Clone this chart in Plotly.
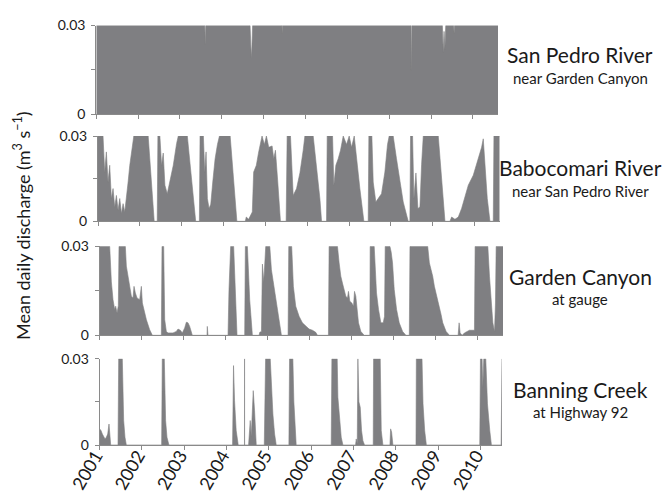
import plotly.graph_objects as go
from datetime import datetime, timedelta

W, H = 670, 494
GREY = "#7f7f82"
AX = "#8a8a8a"
FONT = "Lato"

# ---------------- data (decimal year, mean daily discharge m3/s, clipped at 0.03) -------------
sp_years = [2001.0, 2003.595, 2003.606, 2003.617, 2004.675, 2004.69, 2004.705, 2004.72, 2004.735,
            2005.435, 2005.442, 2005.449, 2008.52, 2008.53, 2008.54,
            2009.27, 2009.29, 2009.31, 2009.33, 2009.35, 2009.54, 2009.55, 2009.56, 2010.6]
sp_vals = [0.03, 0.03, 0.0235, 0.03, 0.03, 0.022, 0.019, 0.023, 0.03,
           0.03, 0.0274, 0.03, 0.03, 0.0146, 0.03,
           0.03, 0.021, 0.028, 0.022, 0.03, 0.03, 0.0274, 0.03, 0.03]

bab_years = [2001.0, 2001.12, 2001.16, 2001.2, 2001.24, 2001.28, 2001.32, 2001.36, 2001.40, 2001.44,
             2001.48, 2001.52, 2001.56, 2001.60, 2001.64, 2001.68, 2001.72, 2001.76, 2001.80, 2001.856,
             2002.2, 2002.28, 2002.344,
             2002.416, 2002.432, 2002.48, 2002.52, 2002.56, 2002.6, 2002.656, 2002.72, 2002.8, 2002.88,
             2002.92, 2003.136, 2003.216, 2003.28, 2003.336,
             2003.424, 2003.44, 2003.52, 2003.552, 2003.584, 2003.616, 2003.656, 2003.696, 2003.744,
             2003.8, 2003.856, 2003.904, 2004.16, 2004.24, 2004.32,
             2004.52, 2004.544, 2004.6, 2004.64, 2004.688, 2004.72, 2004.784, 2004.84, 2004.92, 2004.976,
             2005.024, 2005.08, 2005.16, 2005.2, 2005.24, 2005.296, 2005.36,
             2005.496, 2005.52, 2005.6, 2005.64, 2005.665, 2005.745, 2005.825, 2005.904, 2005.944,
             2006.143, 2006.223, 2006.303, 2006.343,
             2006.462, 2006.478, 2006.606, 2006.637, 2006.685, 2006.741, 2006.797, 2006.861, 2006.94,
             2007.004, 2007.06, 2007.124, 2007.179, 2007.259, 2007.355,
             2007.458, 2007.474, 2007.546, 2007.578, 2007.641, 2007.697, 2007.777, 2007.857, 2007.92,
             2007.96, 2008.056, 2008.135, 2008.215, 2008.295, 2008.414,
             2008.454, 2008.47, 2008.518, 2008.55, 2008.598, 2008.645, 2008.693, 2008.733, 2008.773,
             2009.131, 2009.211, 2009.291,
             2009.41, 2009.45, 2009.53, 2009.61, 2009.689, 2009.769, 2009.849, 2009.968, 2010.088,
             2010.167, 2010.207, 2010.247, 2010.303, 2010.367, 2010.446, 2010.462, 2010.6]
bab_vals = [0.03, 0.03, 0.0173, 0.0244, 0.0138, 0.0197, 0.008, 0.0115, 0.005, 0.0091,
            0.0039, 0.008, 0.0027, 0.0062, 0.0033, 0.008, 0.0138, 0.0197, 0.0244, 0.03,
            0.03, 0.0138, 0.0,
            0.0, 0.03, 0.03, 0.0197, 0.024, 0.0127, 0.0097, 0.0138, 0.0197, 0.0274,
            0.03, 0.03, 0.0173, 0.0068, 0.0,
            0.0, 0.03, 0.03, 0.0173, 0.0244, 0.008, 0.0045, 0.006, 0.0138,
            0.022, 0.027, 0.03, 0.03, 0.0138, 0.0,
            0.0, 0.0015, 0.0007, 0.0021, 0.0033, 0.0173, 0.0197, 0.0244, 0.03, 0.027,
            0.03, 0.026, 0.0265, 0.022, 0.025, 0.0138, 0.0,
            0.0, 0.03, 0.03, 0.0197, 0.0091, 0.0115, 0.017, 0.025, 0.03,
            0.03, 0.0197, 0.008, 0.0,
            0.0, 0.03, 0.03, 0.0127, 0.0197, 0.022, 0.025, 0.03, 0.027,
            0.03, 0.026, 0.03, 0.022, 0.0115, 0.0,
            0.0, 0.03, 0.03, 0.0138, 0.0068, 0.008, 0.0097, 0.0173, 0.027,
            0.03, 0.03, 0.022, 0.0138, 0.0068, 0.0,
            0.0, 0.03, 0.03, 0.008, 0.017, 0.0045, 0.005, 0.02, 0.03,
            0.03, 0.0138, 0.0,
            0.0, 0.0015, 0.0007, 0.0015, 0.0045, 0.0091, 0.0127, 0.0162, 0.022,
            0.026, 0.029, 0.0197, 0.008, 0.0, 0.0, 0.03, 0.03]

gc_years = [2001.0, 2001.238, 2001.278, 2001.317, 2001.357, 2001.381, 2001.413, 2001.444, 2001.46,
            2001.611, 2001.635, 2001.675, 2001.714, 2001.754, 2001.794, 2001.817, 2001.849, 2001.889,
            2001.952, 2001.992, 2002.016, 2002.048, 2002.111, 2002.19, 2002.254,
            2002.468, 2002.484, 2002.524, 2002.548, 2002.587, 2002.627, 2002.746, 2002.825, 2002.865,
            2002.921, 2002.968, 2003.024, 2003.063, 2003.103, 2003.143, 2003.183, 2003.206,
            2003.556, 2003.563, 2003.579,
            2004.056, 2004.079, 2004.119, 2004.19, 2004.23, 2004.27,
            2004.452, 2004.468, 2004.516, 2004.571, 2004.635,
            2004.794, 2004.81, 2004.85, 2004.873, 2004.905, 2004.952, 2005.048, 2005.087, 2005.167,
            2005.246, 2005.325,
            2005.484, 2005.5, 2005.57, 2005.61, 2005.666, 2005.746, 2005.825, 2005.905, 2005.984,
            2006.064, 2006.143, 2006.183,
            2006.445, 2006.461, 2006.66, 2006.7, 2006.74, 2006.779, 2006.819, 2006.859, 2006.899,
            2006.922, 2006.954, 2007.002, 2007.042, 2007.066, 2007.097, 2007.121, 2007.161, 2007.217,
            2007.296,
            2007.431, 2007.439, 2007.535, 2007.559, 2007.59, 2007.638, 2007.694, 2007.75, 2007.781,
            2007.797, 2007.909, 2007.94, 2007.972, 2008.012, 2008.068, 2008.131, 2008.211, 2008.29,
            2008.37, 2008.386, 2008.807, 2008.847, 2008.887, 2008.926, 2008.966, 2009.006, 2009.046,
            2009.086, 2009.125, 2009.165, 2009.245, 2009.324,
            2009.531, 2009.555, 2009.579, 2009.626, 2009.682, 2009.801, 2009.92, 2009.936, 2010.239,
            2010.278, 2010.318, 2010.358, 2010.398, 2010.421, 2010.437, 2010.6]
gc_vals = [0.03, 0.03, 0.018, 0.012, 0.0087, 0.0098, 0.0075, 0.01, 0.03,
           0.03, 0.0233, 0.0199, 0.0165, 0.0132, 0.0126, 0.0165, 0.0143, 0.0126,
           0.012, 0.0165, 0.0109, 0.0087, 0.0053, 0.0019, 0.0,
           0.0, 0.03, 0.03, 0.0053, 0.0013, 0.0008, 0.0008, 0.0013, 0.0021,
           0.0017, 0.0008, 0.0025, 0.0044, 0.0042, 0.003, 0.0008, 0.0,
           0.0, 0.003, 0.0,
           0.0, 0.0154, 0.03, 0.03, 0.012, 0.0,
           0.0, 0.03, 0.03, 0.012, 0.0,
           0.0, 0.001, 0.0013, 0.024, 0.018, 0.03, 0.03, 0.0221, 0.0143,
           0.0064, 0.0,
           0.0, 0.03, 0.03, 0.0165, 0.0098, 0.0064, 0.0042, 0.003, 0.0021,
           0.0017, 0.001, 0.0,
           0.0, 0.03, 0.03, 0.0244, 0.0199, 0.0176, 0.0154, 0.0132, 0.0126,
           0.0148, 0.0115, 0.0109, 0.0098, 0.0148, 0.0132, 0.0087, 0.0042, 0.0013,
           0.0,
           0.0, 0.03, 0.03, 0.0244, 0.0143, 0.0087, 0.0042, 0.0042, 0.0064,
           0.03, 0.03, 0.028, 0.0244, 0.0154, 0.0087, 0.0042, 0.0013, 0.0,
           0.0, 0.03, 0.03, 0.0244, 0.0221, 0.0199, 0.0165, 0.0143, 0.012,
           0.0098, 0.007, 0.0042, 0.0013, 0.0,
           0.0, 0.0042, 0.0008, 0.0, 0.0008, 0.0017, 0.0017, 0.03, 0.03,
           0.0199, 0.0109, 0.0042, 0.0013, 0.0109, 0.03, 0.03]

bc_years = [2001.0, 2001.031, 2001.063, 2001.094, 2001.126, 2001.157, 2001.189, 2001.22, 2001.236, 2001.26,
            2001.433, 2001.449, 2001.535, 2001.567, 2001.598, 2001.63,
            2002.465, 2002.48, 2002.528, 2002.559, 2002.591, 2002.638,
            2004.142, 2004.165, 2004.189, 2004.228, 2004.276,
            2004.423, 2004.425, 2004.427,
            2004.52, 2004.559, 2004.583, 2004.606, 2004.63, 2004.661, 2004.701,
            2004.89, 2004.906, 2004.921, 2005.031, 2005.055, 2005.094, 2005.134, 2005.173,
            2005.472, 2005.488, 2005.566, 2005.59, 2005.645,
            2006.473, 2006.489, 2006.615, 2006.631, 2006.671, 2006.71, 2006.75,
            2007.049, 2007.065, 2007.089, 2007.104, 2007.128, 2007.16, 2007.191, 2007.223, 2007.262,
            2007.467, 2007.475, 2007.633, 2007.657, 2007.696,
            2007.862, 2007.878, 2007.901, 2007.933,
            2008.477, 2008.485, 2008.619, 2008.643, 2008.682, 2008.722,
            2009.984, 2010.0, 2010.039, 2010.055, 2010.079, 2010.126, 2010.166, 2010.221, 2010.26,
            2010.489, 2010.495, 2010.51]
bc_vals = [0.0056, 0.005, 0.0038, 0.003, 0.0021, 0.0027, 0.0038, 0.0073, 0.005, 0.0,
           0.0, 0.03, 0.03, 0.0085, 0.0027, 0.0,
           0.0, 0.03, 0.03, 0.0085, 0.0027, 0.0,
           0.0, 0.0276, 0.0154, 0.005, 0.0,
           0.0, 0.03, 0.0,
           0.0, 0.0085, 0.003, 0.0095, 0.0189, 0.012, 0.0,
           0.0, 0.0166, 0.03, 0.03, 0.0201, 0.0108, 0.0038, 0.0,
           0.0, 0.03, 0.03, 0.015, 0.0,
           0.0, 0.03, 0.03, 0.0166, 0.0085, 0.0027, 0.0,
           0.0, 0.0021, 0.0005, 0.03, 0.015, 0.0131, 0.005, 0.0015, 0.0,
           0.0, 0.03, 0.03, 0.005, 0.0,
           0.0, 0.0056, 0.0045, 0.0,
           0.0, 0.03, 0.03, 0.0143, 0.005, 0.0,
           0.0, 0.03, 0.03, 0.02, 0.03, 0.03, 0.0143, 0.005, 0.0,
           0.0, 0.03, 0.03]

site_names = ["San Pedro River", "Babocomari River", "Garden Canyon", "Banning Creek"]
site_subs = ["near Garden Canyon", "near San Pedro River", "at gauge", "at Highway 92"]
year_ticks = list(range(2001, 2011))
y_tickvals = [0, 0.03]
y_ticktext = ["0", "0.03"]
y_minor_tick = [0.015]
y_title = "Mean daily discharge (m<sup>3</sup> s<sup>\u22121</sup>)"


def to_date(y):
    yr = int(y)
    start = datetime(yr, 1, 1)
    ndays = (datetime(yr + 1, 1, 1) - start).days
    return start + timedelta(days=(y - yr) * ndays)


series = [(sp_years, sp_vals), (bab_years, bab_vals), (gc_years, gc_vals), (bc_years, bc_vals)]
# panel layout in pixels: left, right, top, bottom, end-year of range
panels = [(88.3, 490, 17.5, 106, 2010.6),
          (90, 491.7, 128, 213.3, 2010.6),
          (91.7, 495, 238.3, 327.3, 2010.6),
          (91.7, 494, 350.7, 437, 2010.51)]
label_y = [(47, 70), (160, 183), (268, 291), (381, 404)]

fig = go.Figure()
layout = {}
for i, ((yrs, vals), (l, r, t, b, end)) in enumerate(zip(series, panels)):
    sfx = "" if i == 0 else str(i + 1)
    fig.add_trace(go.Scatter(
        x=[to_date(v) for v in yrs], y=vals, mode="lines", fill="tozeroy",
        line=dict(color=GREY, width=0.6), fillcolor=GREY,
        xaxis="x" + sfx, yaxis="y" + sfx, hoverinfo="skip", showlegend=False))
    xa = dict(
        domain=[l / W, r / W], range=[datetime(2001, 1, 1), to_date(end)],
        anchor="y" + sfx, showline=True, linecolor=AX, linewidth=1,
        ticks="outside", ticklen=4, tickcolor=AX,
        tickvals=[datetime(y, 1, 1) for y in year_ticks],
        showticklabels=(i == 3),
        showgrid=False, zeroline=False, automargin=False)
    if i == 3:
        xa.update(ticktext=[str(y) for y in year_ticks], tickangle=-60,
                  ticklabelstandoff=-12, ticklabelshift=-4,
                  tickfont=dict(family=FONT, size=18, color="#1a1a1a"))
    layout["xaxis" + sfx] = xa
    layout["yaxis" + sfx] = dict(
        domain=[1 - b / H, 1 - t / H], range=[0, 0.03], anchor="x" + sfx,
        showline=True, linecolor=AX, linewidth=1.2, ticks="outside", ticklen=4,
        tickcolor=AX, tickvals=y_tickvals, ticktext=y_ticktext, ticklabelstandoff=3,
        minor=dict(tickvals=y_minor_tick, ticks="outside", ticklen=4, tickcolor=AX),
        tickfont=dict(family=FONT, size=14, color="#1a1a1a"),
        showgrid=False, zeroline=False, automargin=False)

annotations = []
for (ny, sy), name, sub in zip(label_y, site_names, site_subs):
    annotations.append(dict(x=572 / W, y=1 - ny / H, xref="paper", yref="paper", text=name,
                            showarrow=False, xanchor="center", yanchor="middle",
                            font=dict(family=FONT, size=21, color="#1a1a1a")))
    annotations.append(dict(x=572 / W, y=1 - sy / H, xref="paper", yref="paper", text=sub,
                            showarrow=False, xanchor="center", yanchor="middle",
                            font=dict(family=FONT, size=15, color="#1a1a1a")))
annotations.append(dict(x=14 / W, y=1 - 218 / H, xref="paper", yref="paper", text=y_title,
                        textangle=-90, showarrow=False, xanchor="center", yanchor="middle",
                        font=dict(family=FONT, size=18, color="#1a1a1a")))

fig.update_layout(width=W, height=H, margin=dict(l=0, r=0, t=0, b=0),
                  paper_bgcolor="white", plot_bgcolor="white", showlegend=False,
                  annotations=annotations, **layout)
fig.write_html("out.html")
